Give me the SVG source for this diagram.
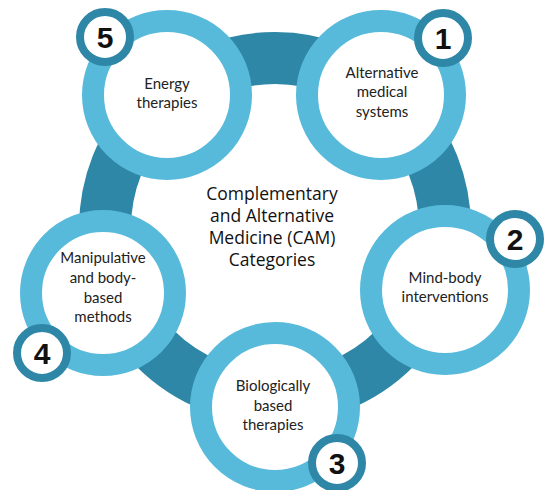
<svg xmlns="http://www.w3.org/2000/svg" width="549" height="490" viewBox="0 0 549 490">
<defs>
<style>
.ring{fill:none;stroke:#2E87A6;stroke-width:52}
.node{fill:#fff;stroke:#58BADB;stroke-width:22}
.badge{fill:#fff;stroke:#2E87A6;stroke-width:8}
.lbl{font-family:Lato,"Open Sans",sans-serif;font-size:15px;fill:#222;text-anchor:middle}
.num{font-family:"Liberation Sans",Arial,sans-serif;font-size:30px;font-weight:bold;fill:#111;text-anchor:middle}
.title{font-family:"Open Sans","Noto Sans",sans-serif;font-size:17.5px;fill:#111;text-anchor:middle}
</style>
</defs>
<rect width="549" height="490" fill="#fff"/>
<g id="connectors">
<circle class="ring" cx="275" cy="228" r="170"/>
</g>
<g id="title">
<text class="title" x="272" y="200">Complementary</text>
<text class="title" x="272" y="222">and Alternative</text>
<text class="title" x="272" y="244">Medicine (CAM)</text>
<text class="title" x="272" y="266">Categories</text>
</g>
<g id="node5">
<circle class="node" cx="167" cy="95" r="74"/>
<text class="lbl" x="167" y="89">Energy</text>
<text class="lbl" x="167" y="108">therapies</text>
<circle class="badge" cx="105" cy="37" r="25"/>
<text class="num" x="105" y="48">5</text>
</g>
<g id="node1">
<circle class="node" cx="381" cy="95" r="74"/>
<text class="lbl" x="382" y="78">Alternative</text>
<text class="lbl" x="382" y="97">medical</text>
<text class="lbl" x="382" y="117">systems</text>
<circle class="badge" cx="443" cy="38" r="25"/>
<text class="num" x="443" y="49">1</text>
</g>
<g id="node2">
<circle class="node" cx="445" cy="290" r="74"/>
<text class="lbl" x="445" y="283">Mind-body</text>
<text class="lbl" x="445" y="302">interventions</text>
<circle class="badge" cx="515" cy="239" r="25"/>
<text class="num" x="515" y="250">2</text>
</g>
<g id="node4">
<circle class="node" cx="103" cy="293" r="72"/>
<text class="lbl" x="103" y="263">Manipulative</text>
<text class="lbl" x="103" y="283">and body-</text>
<text class="lbl" x="103" y="303">based</text>
<text class="lbl" x="103" y="322">methods</text>
<circle class="badge" cx="42" cy="353" r="25"/>
<text class="num" x="42" y="364">4</text>
</g>
<g id="node3">
<circle class="node" cx="275" cy="407" r="74"/>
<text class="lbl" x="273" y="391">Biologically</text>
<text class="lbl" x="273" y="411">based</text>
<text class="lbl" x="273" y="430">therapies</text>
<circle class="badge" cx="337" cy="463" r="25"/>
<text class="num" x="337" y="474">3</text>
</g>
</svg>
